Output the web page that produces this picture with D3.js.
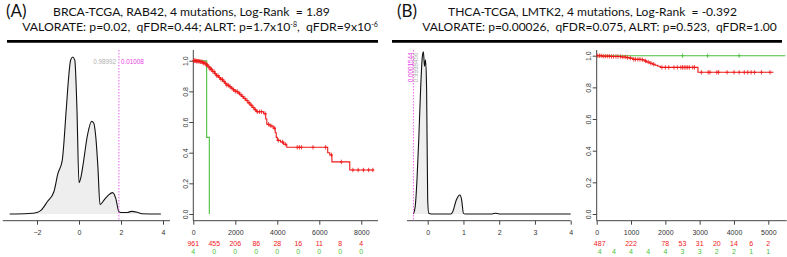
<!DOCTYPE html>
<html>
<head>
<meta charset="utf-8">
<script src="https://cdn.jsdelivr.net/npm/d3@7"></script>
<style>
  body { margin: 0; background: #fff; }
  svg { display: block; }
  .tick-lbl { font-family: "Liberation Sans", Arial, sans-serif; font-size: 7px; fill: #333; }
  .risk { font-family: "Liberation Sans", Arial, sans-serif; font-size: 7px; }
  .ttl { font-family: Lato, "Open Sans", sans-serif; fill: #111; white-space: pre; }
</style>
</head>
<body>
<div id="chart"></div>
<script>
// ---- panel A data ----
const densA_x = [-3.3, -2.4, -2, -1.8, -1.5, -1.2, -1.0, -0.8, -0.6, -0.5, -0.4, -0.3, -0.2, -0.1, 0.0, 0.1, 0.2, 0.4, 0.6, 0.7, 0.8, 0.9, 1.0, 1.2, 1.4, 1.6, 1.75, 1.9, 2.0, 2.3, 2.5, 2.8, 3.0, 3.9];
const densA_y = [0, 0.003, 0.01, 0.025, 0.08, 0.14, 0.26, 0.34, 0.68, 0.86, 0.98, 1.0, 0.98, 0.68, 0.2, 0.24, 0.32, 0.5, 0.59, 0.58, 0.49, 0.3, 0.06, 0.09, 0.12, 0.136, 0.1, 0.015, 0.01, 0.01, 0.017, 0.01, 0.002, 0];
const cutA = 1.9;
const cutA_labels = ["0.98992", "0.01008"];

const kmA_red_t = [0, 150, 300, 450, 600, 700, 800, 900, 1000, 1100, 1200, 1300, 1400, 1500, 1600, 1700, 1800, 1900, 2000, 2100, 2200, 2300, 2400, 2500, 2600, 2700, 2800, 2900, 3000, 3350, 3450, 3500, 3650, 3800, 3900, 3950, 4000, 4150, 4300, 4450, 6400, 6500, 6600, 7450];
const kmA_red_s = [1, 0.997, 0.993, 0.985, 0.972, 0.96, 0.945, 0.93, 0.915, 0.902, 0.89, 0.878, 0.866, 0.853, 0.84, 0.83, 0.82, 0.81, 0.80, 0.79, 0.778, 0.766, 0.753, 0.74, 0.725, 0.71, 0.695, 0.68, 0.667, 0.655, 0.62, 0.585, 0.575, 0.56, 0.53, 0.5, 0.48, 0.47, 0.455, 0.435, 0.40, 0.385, 0.34, 0.287];
const kmA_red_end = 8600;
const kmA_red_cens = [20, 60, 110, 150, 190, 240, 280, 330, 370, 420, 470, 510, 560, 620, 680, 740, 800, 860, 930, 990, 1050, 1120, 1180, 1250, 1320, 1390, 1460, 1530, 1600, 1680, 1760, 1840, 1920, 2000, 2090, 2180, 2270, 2360, 2460, 2560, 2660, 2760, 2860, 2960, 3050, 3150, 3250, 3420, 3580, 3700, 3860, 4050, 4250, 4380, 4950, 5050, 5150, 5700, 6300, 6580, 7050, 7600, 7850, 8100, 8350, 8550];
const kmA_green_t = [0, 636, 763];
const kmA_green_s = [1, 0.5, 0];
const kmA_green_end = 763;
const kmA_green_cens = [];
const kmA_xticks = [0, 2000, 4000, 6000, 8000];
const riskA_t = [0, 1000, 2000, 3000, 4000, 5000, 6000, 7000, 8000];
const riskA_red = [961, 455, 206, 86, 28, 16, 11, 8, 4];
const riskA_green = [4, 0, 0, 0, 0, 0, 0, 0, 0];

// ---- panel B data ----
const densB_x = [-0.4, -0.35, -0.3, -0.25, -0.2, -0.15, -0.12, -0.09, -0.06, -0.03, 0.0, 0.03, 0.1, 0.65, 0.7, 0.8, 0.9, 0.95, 1.0, 1.05, 1.8, 1.9, 2.0, 4.0];
const densB_y = [0, 0.045, 0.21, 0.46, 0.76, 0.97, 1.0, 0.91, 0.95, 0.76, 0.086, 0.004, 0, 0, 0.014, 0.086, 0.117, 0.086, 0.004, 0, 0, 0.005, 0, 0];
const cutB = -0.4;
const cutB_labels = ["0.9998456", "0.0001544"];

const kmB_red_t = [0, 150, 400, 700, 850, 950, 1050, 1300, 1380, 1450, 1550, 1620, 1700, 1780, 1850, 2950];
const kmB_red_s = [1.0, 0.997, 0.995, 0.992, 0.988, 0.985, 0.977, 0.975, 0.967, 0.96, 0.952, 0.946, 0.94, 0.933, 0.926, 0.895];
const kmB_red_end = 5150;
const kmB_red_cens = [30, 80, 130, 190, 250, 310, 370, 430, 490, 560, 620, 690, 760, 830, 900, 980, 1080, 1130, 1200, 1260, 1330, 1420, 1500, 1580, 1660, 1900, 2000, 2100, 2250, 2350, 2450, 2500, 2550, 2600, 2650, 2700, 2800, 2850, 3050, 3250, 3300, 3500, 3550, 3800, 4000, 4150, 4300, 4400, 4500, 4600, 4800, 5050];
const kmB_green_t = [0];
const kmB_green_s = [1];
const kmB_green_end = 5500;
const kmB_green_cens = [2500, 3230, 4150];
const kmB_xticks = [0, 1000, 2000, 3000, 4000, 5000];
const riskB_t = [0, 500, 1000, 1500, 2000, 2500, 3000, 3500, 4000, 4500, 5000];
const riskB_red = [487, null, 222, null, 78, 53, 31, 20, 14, 6, 2];
const riskB_green = [4, 4, 4, 4, 4, 3, 3, 2, 2, 1, 1];

const yticks = [0, 0.2, 0.4, 0.6, 0.8, 1.0];

const RED = "#f01818", GREEN = "#4cbf3c", MAGENTA = "#e93be9", GREY = "#b0b0b0", AXIS = "#444";

const W = 787, H = 257;
const svg = d3.select("#chart").append("svg").attr("width", W).attr("height", H);

// scale a text's font so that it spans the given width
function fitWidth(sel, width) {
    const w = sel.node().getComputedTextLength();
    const fs = parseFloat(sel.style("font-size"));
    sel.style("font-size", (fs * width / w).toFixed(2) + "px");
}

// ---------- headers ----------
function header(letter, lx, line1, cx1, w1, line2parts, cx2, w2, x0, x1) {
    svg.append("text").attr("class", "ttl").attr("x", lx).attr("y", 17)
        .style("font-size", "17px").text(letter);
    const t1 = svg.append("text").attr("class", "ttl").attr("x", cx1).attr("y", 15.5)
        .attr("text-anchor", "middle").style("font-size", "12px").text(line1);
    fitWidth(t1, w1);
    const t2 = svg.append("text").attr("class", "ttl").attr("x", cx2).attr("y", 30.5)
        .attr("text-anchor", "middle").style("font-size", "12px");
    line2parts.forEach(p => {
        const ts = t2.append("tspan").text(p.t);
        if (p.sup) ts.attr("dy", -4).style("font-size", "7px");
        if (p.down) ts.attr("dy", 4);
    });
    fitWidth(t2, w2);
    svg.append("line").attr("x1", x0).attr("x2", x1).attr("y1", 41.3).attr("y2", 41.3)
        .attr("stroke", "#000").attr("stroke-width", 2.8);
}
header("(A)", 6, "BRCA-TCGA, RAB42, 4 mutations, Log-Rank  = 1.89", 191.5, 277,
    [{t: "VALORATE: p=0.02,  qFDR=0.44; ALRT: p=1.7x10"}, {t: "-8", sup: true}, {t: ",  qFDR=9x10", down: true}, {t: "-6", sup: true}],
    200, 356, 7, 378);
header("(B)", 397, "THCA-TCGA, LMTK2, 4 mutations, Log-Rank  = -0.392", 592.5, 289,
    [{t: "VALORATE: p=0.00026,  qFDR=0.075, ALRT: p=0.523,  qFDR=1.00"}], 599.5, 355, 392, 782);

// ---------- density panels ----------
function density(xs, ys, xDomain, xRange, yTop, lineExt, ticks, cut, labels, vertical) {
    const x = d3.scaleLinear().domain(xDomain).range(xRange);
    const y = d3.scaleLinear().domain([0, 1]).range([214, yTop]);
    const pts = xs.map((v, i) => [v, ys[i]]);
    const g = svg.append("g");
    g.append("path").datum(pts)
        .attr("d", d3.area().x(d => x(d[0])).y0(y(0)).y1(d => y(d[1])).curve(d3.curveMonotoneX))
        .attr("fill", "#eeeeee");
    g.append("path").datum(pts)
        .attr("d", d3.line().x(d => x(d[0])).y(d => y(d[1])).curve(d3.curveMonotoneX))
        .attr("fill", "none").attr("stroke", "#111").attr("stroke-width", 1.1);
    // axis
    const ax = g.append("g").attr("transform", "translate(0,220.7)")
        .call(d3.axisBottom(x).tickValues(ticks).tickSize(4).tickFormat(d3.format("d")));
    ax.select(".domain").remove();
    ax.selectAll("line").attr("stroke", AXIS);
    ax.selectAll("text").attr("class", "tick-lbl").attr("dy", 0).attr("y", 14.5);
    g.append("line").attr("x1", x(lineExt[0])).attr("x2", x(lineExt[1]))
        .attr("y1", 220.7).attr("y2", 220.7).attr("stroke", AXIS).attr("stroke-width", 1);
    // cut line
    g.append("line").attr("x1", x(cut)).attr("x2", x(cut)).attr("y1", 50).attr("y2", 220)
        .attr("stroke", MAGENTA).attr("stroke-width", 0.8).attr("stroke-dasharray", "1.5,1.5");
    const ff = "Liberation Sans, Arial, sans-serif", fs = "6.3px";
    if (!vertical) {
        g.append("text").attr("x", x(cut) - 3).attr("y", 64).attr("text-anchor", "end")
            .attr("fill", GREY).style("font-family", ff).style("font-size", fs).text(labels[0]);
        g.append("text").attr("x", x(cut) + 2).attr("y", 64)
            .attr("fill", MAGENTA).style("font-family", ff).style("font-size", fs).text(labels[1]);
    } else {
        g.append("text").attr("transform", `translate(${x(cut) + 4.5},52.5) rotate(-90)`).attr("text-anchor", "end")
            .attr("fill", GREY).style("font-family", ff).style("font-size", fs).text(labels[0]);
        g.append("text").attr("transform", `translate(${x(cut) - 0.5},52.5) rotate(-90)`).attr("text-anchor", "end")
            .attr("fill", MAGENTA).style("font-family", ff).style("font-size", fs).text(labels[1]);
    }
}
density(densA_x, densA_y, [-2, 4], [37, 163], 57, [-3.63, 4.33], [-2, 0, 2, 4], cutA, cutA_labels, false);
density(densB_x, densB_y, [0, 4], [427.7, 570.7], 51.7, [-0.58, 4.0], [0, 1, 2, 3, 4], cutB, cutB_labels, true);

// ---------- KM panels ----------
function stepPath(ts, ss, end) {
    const pts = [];
    ts.forEach((t, i) => {
        if (i > 0) pts.push([t, ss[i - 1]]);
        pts.push([t, ss[i]]);
    });
    pts.push([end, ss[ss.length - 1]]);
    return pts;
}
function survAt(ts, ss, t) {
    let s = ss[0];
    ts.forEach((tt, i) => { if (tt <= t) s = ss[i]; });
    return s;
}
function km(opts) {
    const x = d3.scaleLinear().domain([0, opts.xMax]).range([opts.x0, opts.x1]);
    const y = d3.scaleLinear().domain([0, 1]).range([214, opts.yTop]);
    const g = svg.append("g");
    // axes
    g.append("line").attr("x1", opts.x0).attr("x2", opts.x0).attr("y1", 50).attr("y2", 220.7).attr("stroke", AXIS);
    g.append("line").attr("x1", opts.x0).attr("x2", opts.lineEnd).attr("y1", 220.7).attr("y2", 220.7).attr("stroke", AXIS);
    const ya = g.append("g").attr("transform", `translate(${opts.x0},0)`)
        .call(d3.axisLeft(y).tickValues(yticks).tickSize(4).tickFormat(d3.format(".1f")));
    ya.select(".domain").remove();
    ya.selectAll("line").attr("stroke", AXIS);
    ya.selectAll("text").attr("class", "tick-lbl").attr("x", 0).attr("dy", 0)
        .attr("text-anchor", "middle").attr("transform", "translate(-8,0) rotate(-90)").attr("y", 2.5);
    const xa = g.append("g").attr("transform", "translate(0,220.7)")
        .call(d3.axisBottom(x).tickValues(opts.xticks).tickSize(4).tickFormat(d3.format("d")));
    xa.select(".domain").remove();
    xa.selectAll("line").attr("stroke", AXIS);
    xa.selectAll("text").attr("class", "tick-lbl").attr("dy", 0).attr("y", 14.5);

    const line = d3.line().x(d => x(d[0])).y(d => y(d[1]));
    function curve(ts, ss, end, cens, col) {
        g.append("path").datum(stepPath(ts, ss, end)).attr("d", line)
            .attr("fill", "none").attr("stroke", col).attr("stroke-width", 1.1);
        g.selectAll(null).data(cens).enter().append("path")
            .attr("d", t => {
                const cx = x(t), cy = y(survAt(ts, ss, t));
                return `M${cx - 1.6},${cy}H${cx + 1.6}M${cx},${cy - 2.2}V${cy + 2.2}`;
            })
            .attr("stroke", col).attr("stroke-width", 0.8).attr("fill", "none");
    }
    curve(opts.gt, opts.gs, opts.gend, opts.gcens, GREEN);
    curve(opts.rt, opts.rs, opts.rend, opts.rcens, RED);

    // numbers at risk
    function riskRow(vals, yy, col) {
        g.selectAll(null).data(opts.riskT).enter().append("text")
            .filter((d, i) => vals[i] !== null)
            .attr("class", "risk").attr("fill", col).attr("text-anchor", "middle")
            .attr("x", d => x(d) + (d === 0 ? opts.firstShift : 0)).attr("y", yy)
            .text(d => vals[opts.riskT.indexOf(d)]);
    }
    riskRow(opts.riskRed, 245.5, RED);
    riskRow(opts.riskGreen, 254, GREEN);
}
km({xMax: 8000, x0: 193.3, x1: 361.3, lineEnd: 378, yTop: 60.7, xticks: kmA_xticks,
    rt: kmA_red_t, rs: kmA_red_s, rend: kmA_red_end, rcens: kmA_red_cens,
    gt: kmA_green_t, gs: kmA_green_s, gend: kmA_green_end, gcens: kmA_green_cens,
    riskT: riskA_t, riskRed: riskA_red, riskGreen: riskA_green, firstShift: 0});
km({xMax: 5000, x0: 596.7, x1: 768.3, lineEnd: 786.7, yTop: 55.7, xticks: kmB_xticks,
    rt: kmB_red_t, rs: kmB_red_s, rend: kmB_red_end, rcens: kmB_red_cens,
    gt: kmB_green_t, gs: kmB_green_s, gend: kmB_green_end, gcens: kmB_green_cens,
    riskT: riskB_t, riskRed: riskB_red, riskGreen: riskB_green, firstShift: 3});
</script>
</body>
</html>
